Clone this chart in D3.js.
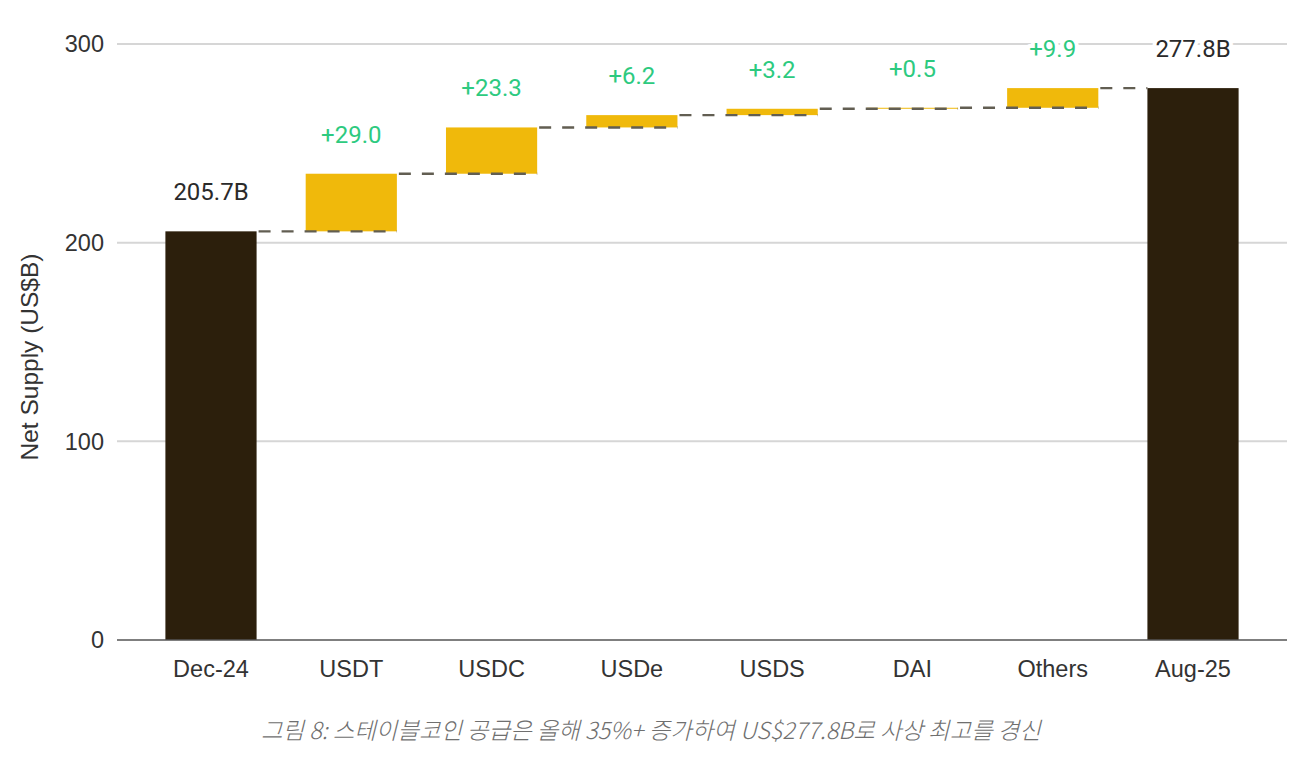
<!DOCTYPE html>
<html><head><meta charset="utf-8">
<script src="https://cdn.jsdelivr.net/npm/d3@7"></script>
<style>
html,body{margin:0;padding:0;background:#fff;}
svg{display:block;}
</style></head>
<body>
<svg id="chart" width="1300" height="759"></svg>
<script>
// Data
const categories = ["Dec-24","USDT","USDC","USDe","USDS","DAI","Others","Aug-25"];
const values = [205.7, 29.0, 23.3, 6.2, 3.2, 0.5, 9.9, 277.8];
const kinds = ["total","delta","delta","delta","delta","delta","delta","total"];
const labels = ["205.7B","+29.0","+23.3","+6.2","+3.2","+0.5","+9.9","277.8B"];
const yTicks = [0,100,200,300];
const yTitle = "Net Supply (US$B)";
const caption = "그림 8: 스테이블코인 공급은 올해 35%+ 증가하여 US$277.8B로 사상 최고를 경신";

(function(){
// Build waterfall
let cum = 0;
const rows = categories.map((c,i)=>{
  let start, end;
  if (kinds[i]==="total"){ start=0; end=values[i]; cum=values[i]; }
  else { start=cum; end=cum+values[i]; cum=end; }
  return {cat:c, start, end, kind:kinds[i], label:labels[i]};
});

const svg = d3.select("#chart");
const mLeft=117, mRight=1287, mTop=44, mBottom=640;
const x = d3.scaleBand().domain(categories).range([mLeft,mRight]).paddingInner(0.35).paddingOuter(0.345);
const y = d3.scaleLinear().domain([0,300]).range([mBottom,mTop]);

const font = "'Liberation Sans', Arial, sans-serif";

// grid
svg.append("g").selectAll("line").data(yTicks.filter(d=>d>0)).join("line")
  .attr("x1",mLeft).attr("x2",mRight).attr("y1",d=>y(d)).attr("y2",d=>y(d))
  .attr("stroke","#d6d6d6").attr("stroke-width",2);

// y tick labels
svg.append("g").selectAll("text").data(yTicks).join("text")
  .attr("x",104).attr("y",d=>y(d)).attr("dy","0.36em")
  .attr("text-anchor","end").attr("font-family",font).attr("font-size",23.5)
  .attr("fill","#333").text(d=>d);

// y title
svg.append("text").attr("transform","translate(38,357) rotate(-90)")
  .attr("text-anchor","middle").attr("font-family",font).attr("font-size",24.5)
  .attr("fill","#333").text(yTitle);

// bars
svg.append("g").selectAll("rect").data(rows).join("rect")
  .attr("x",d=>x(d.cat)).attr("width",x.bandwidth())
  .attr("y",d=>y(Math.max(d.start,d.end)))
  .attr("height",d=>Math.max(0,Math.abs(y(d.start)-y(d.end))))
  .attr("fill",d=>d.kind==="total"?"#2c1f0c":"#f0b90b");

// connectors
const conns = rows.slice(1).map((d,i)=>({x1:x(rows[i].cat)+x.bandwidth(), x2:x(d.cat)+ (d.kind==="total"? 0 : x.bandwidth()), v:rows[i].end}));
svg.append("g").selectAll("line").data(conns).join("line")
  .attr("x1",d=>d.x1+2).attr("x2",d=>d.x2).attr("y1",d=>y(d.v)).attr("y2",d=>y(d.v))
  .attr("stroke","#625e52").attr("stroke-width",2.4).attr("stroke-dasharray","12,11");

// baseline
svg.append("line").attr("x1",mLeft).attr("x2",mRight).attr("y1",mBottom).attr("y2",mBottom)
  .attr("stroke","#555").attr("stroke-width",1.5);

// value labels
svg.append("g").selectAll("text").data(rows).join("text")
  .attr("x",d=>x(d.cat)+x.bandwidth()/2)
  .attr("y",d=>y(Math.max(d.start,d.end))-31)
  .attr("text-anchor","middle").attr("font-family","Roboto, sans-serif").attr("font-size",24)
  .attr("fill",d=>d.kind==="total"?"#2a2a2a":"#2dca80")
  .attr("stroke","#fff").attr("stroke-width",8).attr("paint-order","stroke").attr("stroke-linejoin","round")
  .text(d=>d.label);

// category labels
svg.append("g").selectAll("text").data(categories).join("text")
  .attr("x",d=>x(d)+x.bandwidth()/2).attr("y",677)
  .attr("text-anchor","middle").attr("font-family",font).attr("font-size",23.5)
  .attr("fill","#333").text(d=>d);

// caption
svg.append("text").attr("x",651).attr("y",739).attr("text-anchor","middle")
  .attr("font-family","'Noto Sans CJK KR', sans-serif").attr("font-style","italic")
  .attr("font-size",23.4).attr("font-weight",300).attr("fill","#6f6f6f").text(caption);
})();
</script>
</body></html>
